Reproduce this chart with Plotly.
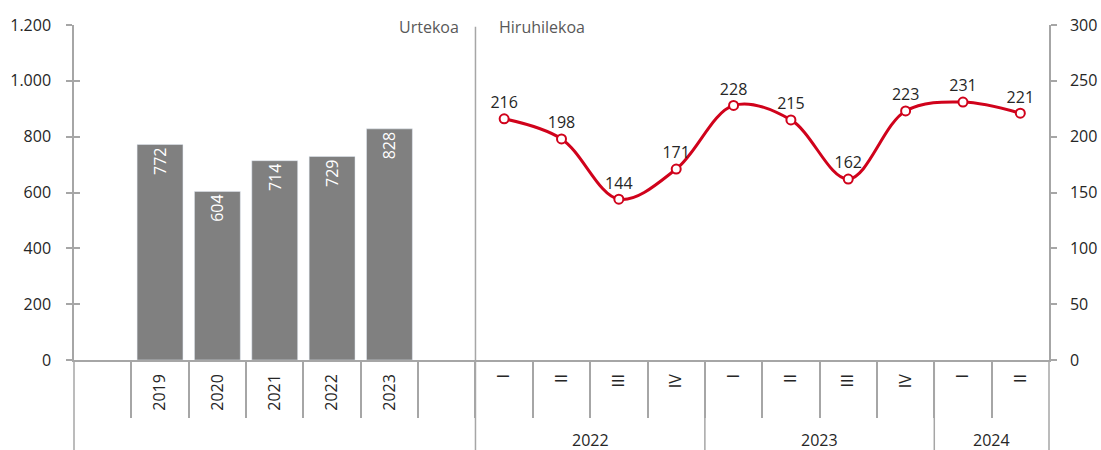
import plotly.graph_objects as go

# ---- data ----
years = ["2019", "2020", "2021", "2022", "2023"]
annual_values = [772, 604, 714, 729, 828]

quarters = ["I", "II", "III", "IV", "I", "II", "III", "IV", "I", "II"]
quarter_years = ["2022", "2022", "2022", "2022", "2023", "2023", "2023", "2023", "2024", "2024"]
quarterly_values = [216, 198, 144, 171, 228, 215, 162, 223, 231, 221]

left_ticks = [0, 200, 400, 600, 800, 1000, 1200]
right_ticks = [0, 50, 100, 150, 200, 250, 300]

# ---- positions on one shared category scale ----
# slot 0 blank, slots 1..5 annual, slot 6 blank, then quarters
bar_x = [1 + i for i in range(len(years))]
q_start = len(years) + 2
line_x = [q_start + i for i in range(len(quarters))]
n_slots = q_start + len(quarters)

GRAY_LINE = "#a6a6a6"
TEXT = "#262626"
RED = "#d0021b"
FONT = "Open Sans"

fig = go.Figure()
fig.add_trace(go.Bar(
    x=bar_x, y=annual_values, marker_color="#808080", width=0.8,
    text=[str(v) for v in annual_values], textposition="inside",
    insidetextanchor="end", textangle=-90,
    textfont=dict(color="white", size=16, family=FONT),
    cliponaxis=False, showlegend=False, hoverinfo="skip",
))
fig.add_trace(go.Scatter(
    x=line_x, y=quarterly_values, yaxis="y2", mode="lines+markers+text",
    line=dict(color=RED, width=3, shape="spline", smoothing=1.0),
    marker=dict(size=9, color="white", line=dict(color=RED, width=2)),
    text=[str(v) for v in quarterly_values], textposition="top center",
    textfont=dict(color=TEXT, size=16, family=FONT),
    cliponaxis=False, showlegend=False,
))

boundaries = [i + 0.5 for i in range(n_slots - 1)]

fig.update_layout(
    width=1101, height=450,
    margin=dict(l=74, r=52, t=25, b=90, autoexpand=False),
    plot_bgcolor="white", paper_bgcolor="white",
    separators=",.",
    font=dict(family=FONT, size=16, color=TEXT),
    bargap=0.2,
    xaxis=dict(
        range=[-0.5, n_slots - 0.5],
        tickmode="array",
        tickvals=bar_x + line_x,
        ticktext=years + quarters,
        tickangle=-90,
        ticks="",
        ticklabelstandoff=6,
        tickfont=dict(size=16, color=TEXT, family=FONT),
        showgrid=False, zeroline=False,
        showline=True, linecolor=GRAY_LINE, linewidth=1.5,
        minor=dict(tickmode="array", tickvals=boundaries, ticks="outside",
                   ticklen=56, tickcolor=GRAY_LINE, tickwidth=1.5, showgrid=False),
    ),
    yaxis=dict(
        range=[0, 1200], tickmode="array", tickvals=left_ticks,
        separatethousands=True,
        ticks="outside", ticklen=6, tickcolor=GRAY_LINE, tickwidth=1.5,
        showline=True, linecolor=GRAY_LINE, linewidth=1.5,
        showgrid=False, zeroline=False,
        ticklabelstandoff=12,
        tickfont=dict(size=16, color=TEXT, family=FONT),
    ),
    yaxis2=dict(
        range=[0, 300], tickmode="array", tickvals=right_ticks,
        overlaying="y", side="right",
        ticks="outside", ticklen=6, tickcolor=GRAY_LINE, tickwidth=1.5,
        showline=True, linecolor=GRAY_LINE, linewidth=1.5,
        showgrid=False, zeroline=False,
        ticklabelstandoff=10,
        tickfont=dict(size=16, color=TEXT, family=FONT),
    ),
    yaxis3=dict(
        range=[0, 1200], tickmode="array", tickvals=left_ticks,
        overlaying="y", side="left", anchor="x",
        ticks="inside", ticklen=6, tickcolor=GRAY_LINE, tickwidth=1.5,
        showticklabels=False, showline=False, showgrid=False, zeroline=False,
    ),
)
# invisible trace to make yaxis3 render
fig.add_trace(go.Scatter(x=[None], y=[None], yaxis="y3", showlegend=False, hoverinfo="skip"))

bottom = -90 / 335
shapes = []
# left and right axis extensions below the plot
for xp in [0, 1]:
    shapes.append(dict(type="line", xref="paper", yref="paper", x0=xp, x1=xp,
                       y0=bottom, y1=0, line=dict(color=GRAY_LINE, width=1.5)))
# panel divider
divider = q_start - 0.5
shapes.append(dict(type="line", xref="x", yref="paper", x0=divider, x1=divider,
                   y0=bottom, y1=0.995, line=dict(color=GRAY_LINE, width=1.5)))
# year group separators
group_names = []
group_bounds = []
for i, yv in enumerate(quarter_years):
    if not group_names or group_names[-1] != yv:
        group_names.append(yv)
        group_bounds.append([line_x[i], line_x[i]])
    else:
        group_bounds[-1][1] = line_x[i]
for b in group_bounds[1:]:
    xs = b[0] - 0.5
    shapes.append(dict(type="line", xref="x", yref="paper", x0=xs, x1=xs,
                       y0=bottom, y1=0, line=dict(color=GRAY_LINE, width=1.5)))
fig.update_layout(shapes=shapes)

annotations = []
for name, b in zip(group_names, group_bounds):
    annotations.append(dict(text=name, x=(b[0] + b[1]) / 2, xref="x", y=-0.239, yref="paper",
                            showarrow=False, xanchor="center", yanchor="middle",
                            font=dict(size=16, color=TEXT, family=FONT)))
annotations.append(dict(text="Urtekoa", x=divider - 0.25, xref="x", y=0.994, yref="paper",
                        showarrow=False, xanchor="right", yanchor="middle",
                        font=dict(size=16, color="#595959", family=FONT)))
annotations.append(dict(text="Hiruhilekoa", x=divider + 0.37, xref="x", y=0.994, yref="paper",
                        showarrow=False, xanchor="left", yanchor="middle",
                        font=dict(size=16, color="#595959", family=FONT)))
fig.update_layout(annotations=annotations)

fig.write_html(
    "out.html",
    config={"displayModeBar": False},
    post_script="document.body.style.margin='0';document.body.style.overflow='hidden';",
)
